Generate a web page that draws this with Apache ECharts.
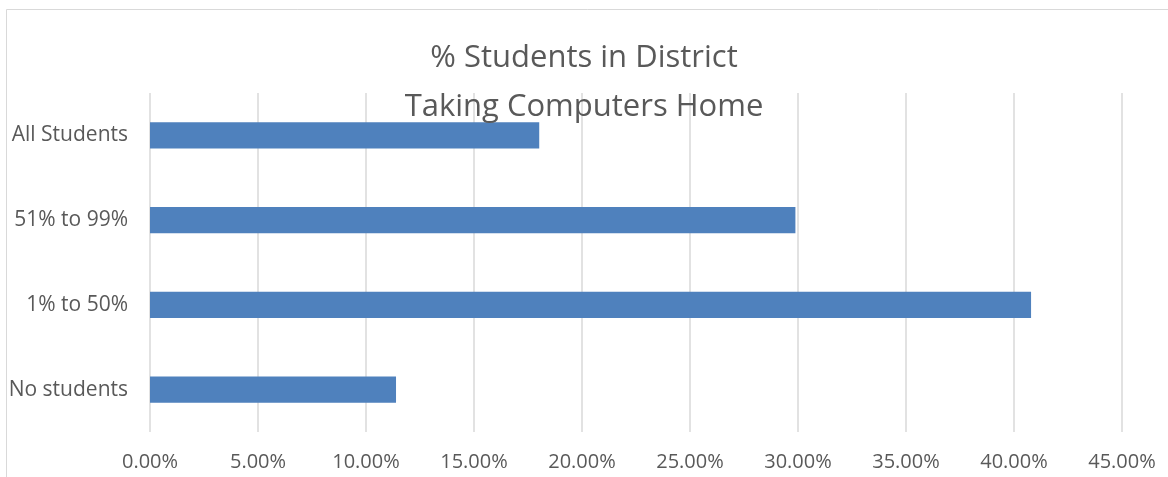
<!DOCTYPE html>
<html><head><meta charset="utf-8">
<script src="https://cdn.jsdelivr.net/npm/echarts@6/dist/echarts.min.js"></script>
<style>html,body{margin:0;padding:0;background:#fff}#c{width:1168px;height:477px}</style>
</head><body><div id="c"></div>
<script>
const categories = ['No students', '1% to 50%', '51% to 99%', 'All Students'];
const values = [0.1139, 0.4079, 0.2988, 0.1802];
const titleText = '% Students in District\nTaking Computers Home';
const axisMax = 0.45;
const axisInterval = 0.05;

const font = 'Open Sans';
const chart = echarts.init(document.getElementById('c'), null, {renderer: 'canvas'});
chart.setOption({
  animation: false,
  backgroundColor: '#fff',
  graphic: [{
    type: 'rect', z: -1, silent: true,
    shape: {x: 6.5, y: 9.5, width: 1300, height: 600},
    style: {fill: 'none', stroke: '#d9d9d9', lineWidth: 1}
  }],
  title: {
    text: titleText,
    left: 'center', top: 29,
    textStyle: {fontFamily: font, fontSize: 31, fontWeight: 'normal', color: '#595959', lineHeight: 49}
  },
  grid: {left: 150, right: 46, top: 93, bottom: 45, containLabel: false},
  xAxis: {
    type: 'value', min: 0, max: axisMax, interval: axisInterval,
    axisLine: {show: false}, axisTick: {show: false},
    splitLine: {lineStyle: {color: '#d9d9d9', width: 1.5}},
    axisLabel: {
      fontFamily: font, fontSize: 20, color: '#595959', margin: 20,
      formatter: v => (v * 100).toFixed(2) + '%'
    }
  },
  yAxis: {
    type: 'category', data: categories,
    axisLine: {show: false}, axisTick: {show: false},
    axisLabel: {fontFamily: font, fontSize: 21, color: '#595959', margin: 22}
  },
  series: [{
    type: 'bar', data: values, barWidth: '31%',
    itemStyle: {color: '#4f81bd'}
  }]
});
</script></body></html>
